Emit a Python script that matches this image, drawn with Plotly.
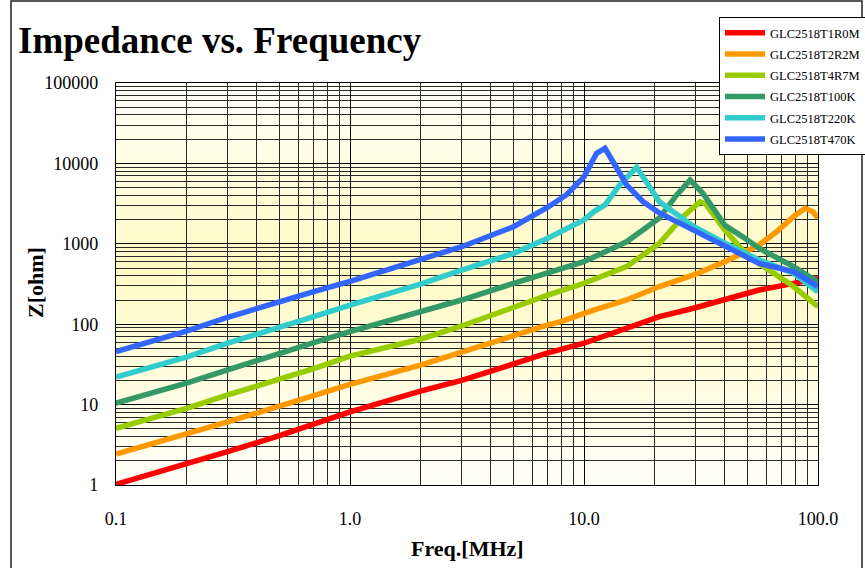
import plotly.graph_objects as go

# ---------------- data ----------------
names = ["GLC2518T1R0M", "GLC2518T2R2M", "GLC2518T4R7M",
         "GLC2518T100K", "GLC2518T220K", "GLC2518T470K"]
colors = ["#FF0000", "#FF9900", "#99CC00", "#339966", "#33CCCC", "#3366FF"]

f_1r0 = [0.1, 0.2, 0.3, 0.5, 0.7, 1, 2, 3, 5, 7, 10, 15.2, 21, 29.4, 40, 56, 78.6, 100]
z_1r0 = [1.02, 1.8, 2.6, 4.1, 5.6, 8.1, 14.7, 20, 32, 44, 58, 89, 124, 158, 200, 266, 322, 372]

f_2r2 = [0.1, 0.2, 0.3, 0.5, 0.7, 1, 2, 3, 5, 7, 7.9, 11, 15.2, 21, 29.4, 40, 56, 66.7, 78.6, 88, 95, 100]
z_2r2 = [2.43, 4.3, 6.1, 9.6, 12.8, 17.9, 31, 45.5, 73, 98, 107, 150, 200, 294, 410, 600, 965, 1420, 2180, 2760, 2500, 2090]

f_4r7 = [0.1, 0.2, 0.3, 0.5, 0.7, 1, 2, 3, 5, 7, 10, 15.2, 21, 26.5, 31.3, 33, 40, 47.5, 56, 78.6, 100]
z_4r7 = [5.07, 9.0, 13.2, 20.5, 28, 40, 65, 95, 164, 230, 323, 520, 1015, 2180, 3330, 3170, 1480, 840, 570, 294, 165]

f_100 = [0.1, 0.2, 0.3, 0.5, 0.7, 1, 2, 3, 5, 7, 10, 15.2, 21, 24.9, 28.4, 32.2, 40, 47.5, 56, 78.6, 100]
z_100 = [10.4, 18.5, 27, 44, 59, 81, 143, 200, 322, 430, 600, 1060, 2090, 4050, 6200, 4250, 1700, 1230, 880, 520, 336]

f_220 = [0.1, 0.2, 0.3, 0.5, 0.7, 1, 2, 3, 5, 7, 10, 11, 12.3, 14.2, 16.8, 21, 24.9, 29.4, 40, 56, 78.6, 100]
z_220 = [22, 39, 58, 90, 124, 173, 315, 470, 760, 1170, 1980, 2500, 3040, 5400, 8950, 3330, 2270, 1640, 1015, 630, 430, 253]

f_470 = [0.1, 0.2, 0.3, 0.5, 0.7, 1, 2, 3, 5, 7, 8.4, 10, 11.3, 12.3, 14.2, 15.2, 17.9, 21.1, 29.4, 40.2, 56, 78.6, 100]
z_470 = [45.5, 82, 122, 192, 255, 340, 627, 920, 1630, 2850, 4050, 6800, 13300, 15400, 7600, 5400, 3330, 2400, 1480, 920, 570, 450, 294]

freqs = [f_1r0, f_2r2, f_4r7, f_100, f_220, f_470]
imps = [z_1r0, z_2r2, z_4r7, z_100, z_220, z_470]

x_tickvals = [0.1, 1, 10, 100]
x_ticktext = ["0.1", "1.0", "10.0", "100.0"]
y_tickvals = [1, 10, 100, 1000, 10000, 100000]
y_ticktext = ["1", "10", "100", "1000", "10000", "100000"]
x_minor = [m * d for d in (0.1, 1, 10) for m in range(2, 10)]
y_minor = [m * d for d in (1, 10, 100, 1000, 10000) for m in range(2, 10)]

FONT = "Liberation Serif, Times New Roman, serif"

fig = go.Figure()
for i in range(len(names)):
    fig.add_trace(go.Scatter(
        x=freqs[i], y=imps[i], mode="lines", name=names[i],
        line=dict(color=colors[i], width=5.5), legendgroup=names[i]))

# background gradient: white at top/bottom, pale yellow in the middle
shapes = []
N = 80
peak = 0.55
for k in range(N):
    t0, t1 = k / N, (k + 1) / N
    tc = (t0 + t1) / 2
    a = tc / peak if tc <= peak else (1 - tc) / (1 - peak)
    a = max(0.0, min(1.0, a))
    g = round(255 - (255 - 250) * a)
    b = round(248 - (248 - 196) * a)
    shapes.append(dict(type="rect", xref="x domain", yref="y domain",
                       x0=0, x1=1, y0=t0, y1=t1 + 0.002, layer="below",
                       line=dict(width=0), fillcolor=f"rgb(255,{g},{b})"))
# outer frame of the chart
shapes.append(dict(type="rect", xref="paper", yref="paper",
                   x0=(11 - 116) / 702, x1=(862 - 116) / 702,
                   y0=(485 - 572) / 402, y1=(485 - 1) / 402,
                   line=dict(color="#222222", width=1.5), fillcolor="rgba(0,0,0,0)",
                   layer="above"))

axis_common = dict(type="log", showline=True, linecolor="#000000", linewidth=1.2,
                   mirror=True, showgrid=True, gridcolor="#000000", gridwidth=1.2,
                   ticks="", zeroline=False,
                   tickfont=dict(family=FONT, size=18, color="#000000"))

fig.update_layout(
    width=865, height=568,
    margin=dict(l=116, r=47, t=83, b=83, autoexpand=False),
    paper_bgcolor="#FFFFFF", plot_bgcolor="#FFFFFF",
    font=dict(family=FONT, color="#000000"),
    title=dict(text="Impedance vs. Frequency", x=18 / 865, xanchor="left",
               y=1 - 40 / 568, yanchor="middle", xref="container", yref="container",
               font=dict(family=FONT, size=37, weight="bold", color="#000000")),
    xaxis=dict(axis_common, range=[-1, 2], tickvals=x_tickvals, ticktext=x_ticktext,
               ticklabelstandoff=17,
               minor=dict(tickvals=x_minor, showgrid=True, gridcolor="#2a2a2a", gridwidth=1.1, ticks="")),
    yaxis=dict(axis_common, range=[0, 5], tickvals=y_tickvals, ticktext=y_ticktext,
               ticklabelstandoff=13,
               minor=dict(tickvals=y_minor, showgrid=True, gridcolor="#2a2a2a", gridwidth=1.1, ticks="")),
    showlegend=True,
    legend=dict(xref="container", yref="container", x=719 / 865, y=1 - 17 / 568,
                xanchor="left", yanchor="top",
                bgcolor="#FFFFFF", bordercolor="#000000", borderwidth=1,
                font=dict(family=FONT, size=12.5, color="#000000"),
                itemwidth=40, tracegroupgap=2, traceorder="grouped"),
    shapes=shapes,
    annotations=[
        dict(text="Freq.[MHz]", xref="paper", yref="paper", x=0.5, y=(485 - 548) / 402,
             xanchor="center", yanchor="middle", showarrow=False,
             font=dict(family=FONT, size=22, weight="bold", color="#000000")),
        dict(text="Z[ohm]", xref="paper", yref="paper", x=(35 - 116) / 702, y=(485 - 283) / 402,
             xanchor="center", yanchor="middle", showarrow=False, textangle=-90,
             font=dict(family=FONT, size=22, weight="bold", color="#000000")),
    ],
)

fig.write_html("out.html", config={"displayModeBar": False},
               post_script="document.body.style.margin='0';document.body.style.overflow='hidden';")
